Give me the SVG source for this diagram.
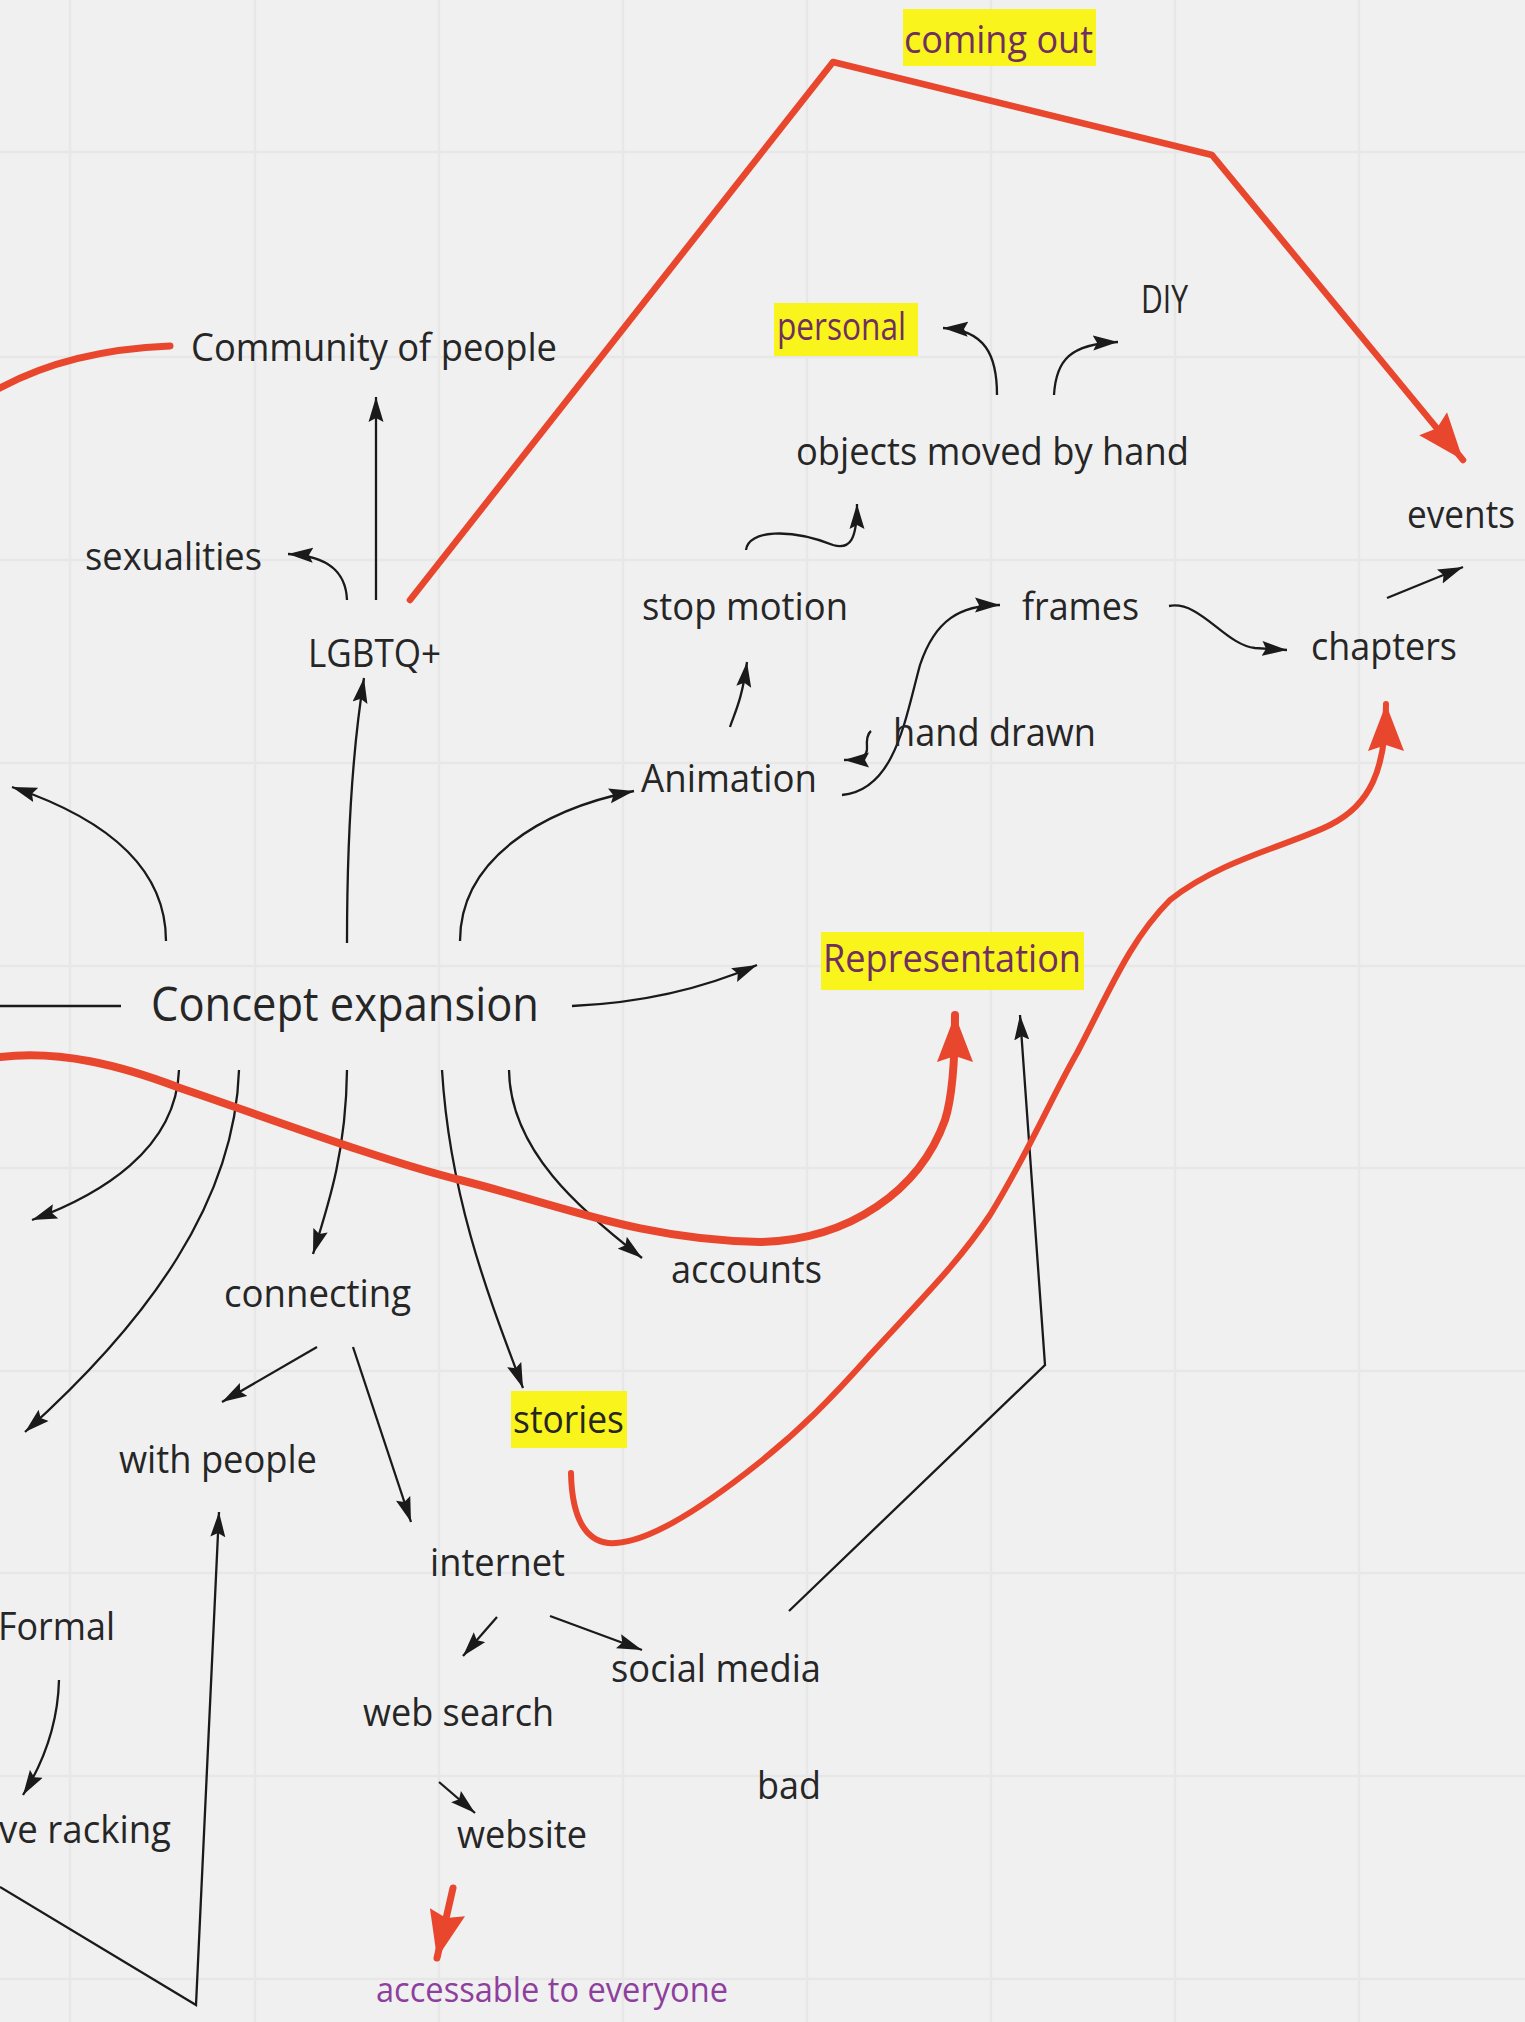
<svg xmlns="http://www.w3.org/2000/svg" width="1525" height="2022" viewBox="0 0 1525 2022">
<style>
.t{font-family:"Open Sans","Noto Sans","Liberation Sans",sans-serif;font-size:38px;fill:#262626}
.big{font-size:47px}
.hl{fill:#6f2f60}
.acc{fill:#8e3f9e;font-size:35px}
.bx{fill:#f8f41c}
.g{stroke:#e7e7e7;stroke-width:2.5}
.c{fill:none;stroke:#1a1a1a;stroke-width:2.3;marker-end:url(#ah)}
.cn{fill:none;stroke:#1a1a1a;stroke-width:2.3}
.r{fill:none;stroke:#e8472e;stroke-linecap:round;stroke-linejoin:round}
.ra{marker-end:url(#rah)}
</style>
<defs>
<marker id="ah" markerUnits="userSpaceOnUse" markerWidth="26" markerHeight="16" viewBox="0 0 26 16" refX="25" refY="8" orient="auto">
<path d="M0,0.5 L25,8 L0,15.5 L4,8 z" fill="#1a1a1a"/>
</marker>
<marker id="rah" markerUnits="userSpaceOnUse" markerWidth="48" markerHeight="40" viewBox="0 0 48 40" refX="47" refY="20" orient="auto">
<path d="M0,2 L47,20 L0,38 L6,20 z" fill="#e8472e"/>
</marker>
</defs>
<rect width="1525" height="2022" fill="#f0f0f0"/>
<g id="grid">
<path class="g" d="M70,0V2022M255,0V2022M439,0V2022M623,0V2022M807,0V2022M991,0V2022M1175,0V2022M1359,0V2022M0,152H1525M0,357H1525M0,560H1525M0,763H1525M0,966H1525M0,1168H1525M0,1371H1525M0,1573H1525M0,1776H1525M0,1979H1525"/>
</g>
<g id="connectors">
<path class="c" d="M376,600 L376,397"/>
<path class="c" d="M347,600 C346,575 332,556 288,554"/>
<path class="c" d="M166,941 C166,870 110,820 12,787"/>
<path class="c" d="M347,943 C347,830 354,740 364,678"/>
<path class="c" d="M460,941 C460,860 540,810 634,791"/>
<path class="cn" d="M0,1006 L121,1006"/>
<path class="c" d="M572,1006 C640,1003 700,990 757,965"/>
<path class="c" d="M179,1070 C176,1150 100,1195 32,1220"/>
<path class="c" d="M239,1070 C235,1200 150,1320 25,1432"/>
<path class="c" d="M347,1070 C346,1150 330,1200 313,1254"/>
<path class="c" d="M442,1070 C450,1200 490,1300 523,1388"/>
<path class="c" d="M509,1070 C510,1150 580,1210 642,1258"/>
<path class="c" d="M317,1347 L222,1402"/>
<path class="c" d="M353,1347 L411,1522"/>
<path class="c" d="M730,727 C735,712 742,700 747,662"/>
<path class="c" d="M746,550 C748,530 790,528 833,545 C850,550 857,540 857,504"/>
<path class="c" d="M997,395 C997,355 985,330 943,328"/>
<path class="c" d="M1054,395 C1056,360 1070,344 1118,342"/>
<path class="c" d="M842,795 C895,790 905,720 920,665 C935,620 960,605 1000,605"/>
<path class="c" d="M871,731 Q866,735 867,748 Q868,760 844,760"/>
<path class="c" d="M1169,606 C1200,600 1225,645 1255,648 L1287,650"/>
<path class="c" d="M1387,598 L1463,567"/>
<path class="c" d="M497,1617 L463,1656"/>
<path class="c" d="M550,1616 L642,1650"/>
<path class="c" d="M439,1782 L475,1813"/>
<path class="c" d="M59,1680 C58,1720 45,1760 23,1795"/>
<path class="c" d="M0,1887 L196,2005 L219,1512"/>
<path class="c" d="M789,1611 L1045,1365 L1020,1015"/>
<path class="r" stroke-width="7" d="M0,388 Q70,350 170,346"/>
<path class="r ra" stroke-width="6.5" d="M410,600 L833,62 L1212,155 L1463,460"/>
<path class="r ra" stroke-width="8" d="M0,1057 C60,1050 120,1065 180,1088 C260,1115 380,1160 460,1180 C560,1205 640,1240 760,1242 C850,1240 920,1190 945,1120 C953,1095 955,1060 955,1015"/>
<path class="r ra" stroke-width="6" d="M571,1473 C572,1525 590,1545 616,1543 C650,1541 700,1510 760,1462 C800,1430 830,1400 870,1355 C930,1290 960,1260 990,1215 C1030,1150 1050,1100 1077,1053 C1110,990 1130,940 1170,900 C1220,860 1290,845 1330,825 C1370,805 1386,770 1386,704"/>
<path class="r ra" stroke-width="7" d="M453,1888 L437,1958"/>
</g>
<g id="n-community"><text class="t" x="191" y="361" textLength="366" lengthAdjust="spacingAndGlyphs">Community of people</text></g>
<g id="n-sexualities"><text class="t" x="85" y="570" textLength="177" lengthAdjust="spacingAndGlyphs">sexualities</text></g>
<g id="n-lgbtq"><text class="t" x="308" y="667" textLength="133" lengthAdjust="spacingAndGlyphs">LGBTQ+</text></g>
<g id="n-coming-out"><rect class="bx" x="903" y="9" width="193" height="57"/><text class="t hl" x="904" y="53" textLength="189" lengthAdjust="spacingAndGlyphs">coming out</text></g>
<g id="n-personal"><rect class="bx" x="774" y="303" width="144" height="53"/><text class="t hl" x="777" y="340" textLength="129" lengthAdjust="spacingAndGlyphs">personal</text></g>
<g id="n-diy"><text class="t" x="1141" y="313" textLength="47" lengthAdjust="spacingAndGlyphs">DIY</text></g>
<g id="n-objects"><text class="t" x="796" y="465" textLength="393" lengthAdjust="spacingAndGlyphs">objects moved by hand</text></g>
<g id="n-events"><text class="t" x="1407" y="528" textLength="108" lengthAdjust="spacingAndGlyphs">events</text></g>
<g id="n-chapters"><text class="t" x="1311" y="660" textLength="146" lengthAdjust="spacingAndGlyphs">chapters</text></g>
<g id="n-frames"><text class="t" x="1022" y="620" textLength="117" lengthAdjust="spacingAndGlyphs">frames</text></g>
<g id="n-stop-motion"><text class="t" x="642" y="620" textLength="206" lengthAdjust="spacingAndGlyphs">stop motion</text></g>
<g id="n-hand-drawn"><text class="t" x="893" y="746" textLength="203" lengthAdjust="spacingAndGlyphs">hand drawn</text></g>
<g id="n-animation"><text class="t" x="641" y="792" textLength="176" lengthAdjust="spacingAndGlyphs">Animation</text></g>
<g id="n-concept"><text class="t big" x="151" y="1021" textLength="388" lengthAdjust="spacingAndGlyphs">Concept expansion</text></g>
<g id="n-representation"><rect class="bx" x="821" y="932" width="263" height="58"/><text class="t hl" x="823" y="972" textLength="258" lengthAdjust="spacingAndGlyphs">Representation</text></g>
<g id="n-accounts"><text class="t" x="671" y="1283" textLength="151" lengthAdjust="spacingAndGlyphs">accounts</text></g>
<g id="n-connecting"><text class="t" x="224" y="1307" textLength="187" lengthAdjust="spacingAndGlyphs">connecting</text></g>
<g id="n-stories"><rect class="bx" x="511" y="1391" width="116" height="57"/><text class="t" x="513" y="1433" textLength="111" lengthAdjust="spacingAndGlyphs">stories</text></g>
<g id="n-with-people"><text class="t" x="119" y="1473" textLength="198" lengthAdjust="spacingAndGlyphs">with people</text></g>
<g id="n-internet"><text class="t" x="430" y="1576" textLength="135" lengthAdjust="spacingAndGlyphs">internet</text></g>
<g id="n-formal"><text class="t" x="-2" y="1640" textLength="117" lengthAdjust="spacingAndGlyphs">Formal</text></g>
<g id="n-social-media"><text class="t" x="611" y="1682" textLength="210" lengthAdjust="spacingAndGlyphs">social media</text></g>
<g id="n-web-search"><text class="t" x="363" y="1726" textLength="191" lengthAdjust="spacingAndGlyphs">web search</text></g>
<g id="n-bad"><text class="t" x="757" y="1799" textLength="64" lengthAdjust="spacingAndGlyphs">bad</text></g>
<g id="n-racking"><text class="t" x="-1" y="1843" textLength="172" lengthAdjust="spacingAndGlyphs">ve racking</text></g>
<g id="n-website"><text class="t" x="457" y="1848" textLength="130" lengthAdjust="spacingAndGlyphs">website</text></g>
<g id="n-accessable"><text class="t acc" x="376" y="2002" textLength="352" lengthAdjust="spacingAndGlyphs">accessable to everyone</text></g>
</svg>
